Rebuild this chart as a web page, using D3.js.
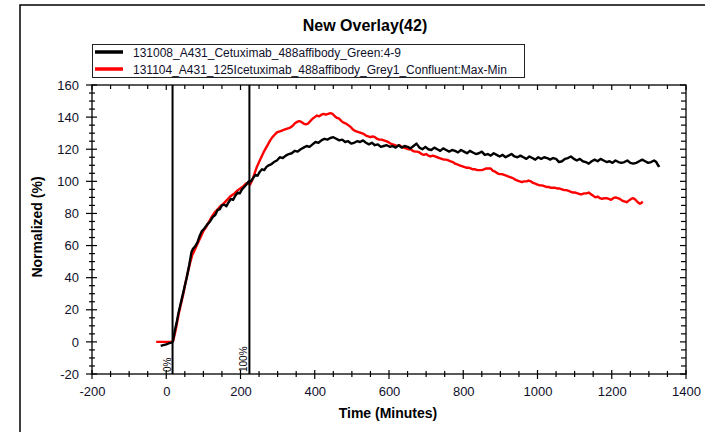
<!DOCTYPE html>
<html><head><meta charset="utf-8">
<script src="https://cdn.jsdelivr.net/npm/d3@7"></script>
<style>html,body{margin:0;padding:0;background:#fff;}svg{display:block;font-family:"Liberation Sans",Arial,sans-serif;}</style>
</head><body>
<svg id="c" width="711" height="432"></svg>
<script>
const chartTitle = "New Overlay(42)";
const xLabel = "Time (Minutes)";
const yLabel = "Normalized (%)";
const seriesNames = ["131008_A431_Cetuximab_488affibody_Green:4-9","131104_A431_125Icetuximab_488affibody_Grey1_Confluent:Max-Min"];
const seriesColors = ["#000000","#ff0000"];
const xTickValues = [-200,0,200,400,600,800,1000,1200,1400];
const yTickValues = [-20,0,20,40,60,80,100,120,140,160];
const markerTimes = [17,224];
const markerLabels = ["0%","100%"];

const blackTime = [-15,-8,0,8,15,18,20,24,28,32,37,42,48,55,62,68,72,78,84,90,96,102,110,118,126,132,138,144,150,156,162,168,174,180,186,192,198,204,210,216,222,228,234,240,246,252,258,264,270,276,282,290,298,306,314,322,330,338,346,354,362,370,378,386,394,402,410,418,426,434,442,450,458,466,474,482,490,498,506,514,522,530,538,546,554,562,570,578,586,594,602,610,618,626,634,642,650,658,666,674,682,690,698,706,714,722,730,738,746,754,762,770,778,786,794,802,810,818,826,834,842,850,858,866,874,882,890,898,906,914,922,930,938,946,954,962,970,978,986,994,1002,1010,1018,1026,1034,1042,1050,1058,1066,1074,1082,1090,1098,1106,1114,1122,1130,1138,1146,1154,1162,1170,1178,1186,1194,1202,1210,1218,1226,1234,1242,1250,1258,1266,1274,1282,1290,1298,1306,1314,1320,1326,1329];
const blackValue = [-2.5,-2,-1.5,-0.8,-0.5,0.5,3,8,12,17,22,27,33,40,48,56,58,59.5,62,66,69,70.5,73,75,78,79,82,82.5,85,85.5,84.5,87,89,88.5,91,93,92.5,95,96.5,98,100,100,102,104,103.5,106,107.5,107,109,110,110.5,112,113,115,114.5,116,117,117.5,119,118.5,120,121,122,121.5,123,124.5,124,125.5,126.5,126,127,127.5,126.5,125.5,126,124.5,125,123.5,124,125,124.5,125.5,124,123,124,122.5,123,121.5,122,122.5,121.5,122,121,122.5,121,122,121.5,120.5,122,123.5,121,120,121.5,120,119.5,121,120,119,120.5,119.5,118.5,119.5,119,118,119.5,118.5,117.5,119,118,117,117.5,118.5,116.5,117,116,117.5,116.5,115.5,116.5,115,116,117,115.5,115,116,115,114,115.5,114.5,113.5,115,114,115,114.5,113.5,114.5,114,112,112.5,114,114.5,115.5,114,113,114,112.5,112,111,112.5,113.5,112.5,114,113,112,112.5,111.5,113,112,111.5,112,113,111.5,111,111.5,112.5,113.5,112.5,111.5,112,113,112,109.5,110];

const redTime = [-27,-15,0,10,16,19,22,26,30,35,40,46,52,58,64,70,76,82,88,94,100,106,112,118,124,130,136,142,148,154,160,166,172,178,184,190,196,202,208,214,220,226,232,238,244,250,256,262,268,274,280,286,292,298,304,310,316,322,328,334,340,346,352,358,364,370,376,382,388,394,400,406,412,418,424,430,436,442,448,454,460,466,472,478,484,490,496,502,508,514,520,526,532,538,544,550,556,562,568,574,580,586,592,598,604,610,616,622,628,634,640,646,652,658,664,670,676,682,688,694,700,706,712,718,724,730,736,742,748,754,760,766,772,778,784,790,796,802,808,814,820,826,832,838,844,850,856,862,868,874,880,886,892,898,904,910,916,922,928,934,940,946,952,958,964,970,976,982,988,994,1000,1006,1012,1018,1024,1030,1036,1042,1048,1054,1060,1066,1072,1078,1084,1090,1096,1102,1108,1114,1120,1126,1132,1138,1144,1150,1156,1162,1168,1174,1180,1186,1192,1198,1204,1210,1216,1222,1228,1234,1240,1246,1252,1258,1264,1270,1276,1280,1283];
const redValue = [0,0,0,0,0,1,4,8,13,19,24,30,37,43,49,54,57,60,63,66,69,71,73.5,76,78.5,80.5,82,83.5,85,86,87.5,89,90.5,91.5,92.5,94,95,96,97,98.5,99,98,101,105,109,112,115,118,120.5,123,125.5,127.5,129,130.5,131,131.5,132,132.5,133,133.5,134.5,136,137,137.5,137,136,135.5,136,137.5,139,140,141,140.5,141.5,142,141.5,142,142.5,142,140.5,139.5,139,137.5,136.5,136,135,134,132.5,131.5,131,130.5,130,129.5,128.5,128,127.5,128,127.5,126.5,126,126,125.5,125,124.5,123.5,123,122.5,122,122.5,121.5,121,120.5,120,120,119,118.5,118.5,118,117,116.5,117,116,115.5,116,115.5,115,114.5,114,113.5,113.5,113,112.5,112,111,110.5,110,109.5,109,108.5,108.5,108,107.5,107.5,107,107,107,107.5,108,108,108,106.5,106,105,104.5,104.5,104,103.5,103,102.5,102,101,100.5,100,99.5,100,100,100.5,100,99,98.5,98,97.5,97.5,97,96.5,96.5,96,96,96,95.5,95.5,95,94.5,94.5,94,93.5,93,93,92.5,92,92,92.5,92.5,93,92,91,90,90.5,89.5,89,89.5,89.5,89,88.5,89.5,90,89.5,89,88,87.5,87,88,89,89.5,88.5,87,86,86.5,87.5];

const svg = d3.select("#c");
const x = d3.scaleLinear().domain([-200,1400]).range([92,686]);
const y = d3.scaleLinear().domain([-20,160]).range([374,85]);
const txt = "#10102a";

// outer frame
svg.append("path").attr("d","M20,436V5H705").attr("fill","none").attr("stroke","#000").attr("stroke-width",1.5);

// title
svg.append("text").attr("x",365).attr("y",31).attr("text-anchor","middle")
  .attr("font-size",16).attr("font-weight","bold").attr("fill","#000").text(chartTitle);

// legend
const lg = svg.append("g");
lg.append("rect").attr("x",92.5).attr("y",44.5).attr("width",432).attr("height",33)
  .attr("fill","#fff").attr("stroke","#222").attr("stroke-width",1);
seriesNames.forEach((n,i)=>{
  const yy = 52 + i*17;
  lg.append("line").attr("x1",95).attr("x2",123).attr("y1",yy).attr("y2",yy)
    .attr("stroke",seriesColors[i]).attr("stroke-width",3.5);
  lg.append("text").attr("x",133).attr("y",yy+4.5).attr("font-size",12).attr("fill",txt).text(n);
});

// plot frame
svg.append("rect").attr("x",x(-200)).attr("y",y(160)).attr("width",x(1400)-x(-200)).attr("height",y(-20)-y(160))
  .attr("fill","none").attr("stroke","#000").attr("stroke-width",1.3);

// minor/major ticks
const xMinor = d3.range(-200,1401,50);
const yMinor = d3.range(-20,161,5);
const tk = svg.append("g").attr("stroke","#000").attr("stroke-width",1.2);
xMinor.forEach(v=>{
  const major = v%200===0;
  tk.append("line").attr("x1",x(v)).attr("x2",x(v)).attr("y1",y(-20)-(major?4:3)).attr("y2",y(-20)+(major?5:3));
  tk.append("line").attr("x1",x(v)).attr("x2",x(v)).attr("y1",y(160)).attr("y2",y(160)+(major?5:4));
});
yMinor.forEach(v=>{
  const major = v%20===0;
  tk.append("line").attr("y1",y(v)).attr("y2",y(v)).attr("x1",x(-200)-(major?6:3)).attr("x2",x(-200)+(major?5:3));
  tk.append("line").attr("y1",y(v)).attr("y2",y(v)).attr("x1",x(1400)).attr("x2",x(1400)-(major?6:5));
});

// axes labels via d3 axes
const fmt = d => String(d);
const gx = svg.append("g").attr("transform",`translate(0,${y(-20)})`)
  .call(d3.axisBottom(x).tickValues(xTickValues).tickSize(0).tickPadding(13).tickFormat(fmt));
gx.select(".domain").remove();
gx.selectAll("text").attr("font-size",13).attr("fill",txt).attr("font-family","Liberation Sans, Arial, sans-serif");
const gy = svg.append("g").attr("transform",`translate(${x(-200)},0)`)
  .call(d3.axisLeft(y).tickValues(yTickValues).tickSize(0).tickPadding(13).tickFormat(fmt));
gy.select(".domain").remove();
gy.selectAll("text").attr("font-size",13).attr("fill",txt).attr("font-family","Liberation Sans, Arial, sans-serif");

svg.append("text").attr("x",388).attr("y",418).attr("text-anchor","middle")
  .attr("font-size",14).attr("font-weight","bold").attr("fill","#000").text(xLabel);
svg.append("text").attr("transform","translate(42,227) rotate(-90)").attr("text-anchor","middle")
  .attr("font-size",14).attr("font-weight","bold").attr("fill","#000").text(yLabel);

// series
const line = d3.line().x(d=>x(d[0])).y(d=>y(d[1]));
const blackData = blackTime.map((t,i)=>[t,blackValue[i]]);
const redData = redTime.map((t,i)=>[t,redValue[i]]);
svg.append("path").datum(redData).attr("d",line).attr("fill","none").attr("stroke",seriesColors[1]).attr("stroke-width",2.4).attr("stroke-linejoin","round");
svg.append("path").datum(blackData).attr("d",line).attr("fill","none").attr("stroke",seriesColors[0]).attr("stroke-width",2.4).attr("stroke-linejoin","round");

// marker lines
markerTimes.forEach((t,i)=>{
  svg.append("line").attr("x1",x(t)).attr("x2",x(t)).attr("y1",y(160)).attr("y2",y(-20))
    .attr("stroke","#000").attr("stroke-width",2);
  svg.append("text").attr("transform",`translate(${x(t)-2},${y(-20)-2}) rotate(-90)`)
    .attr("font-size",10).attr("fill","#000").text(markerLabels[i]);
});
</script>
</body></html>
